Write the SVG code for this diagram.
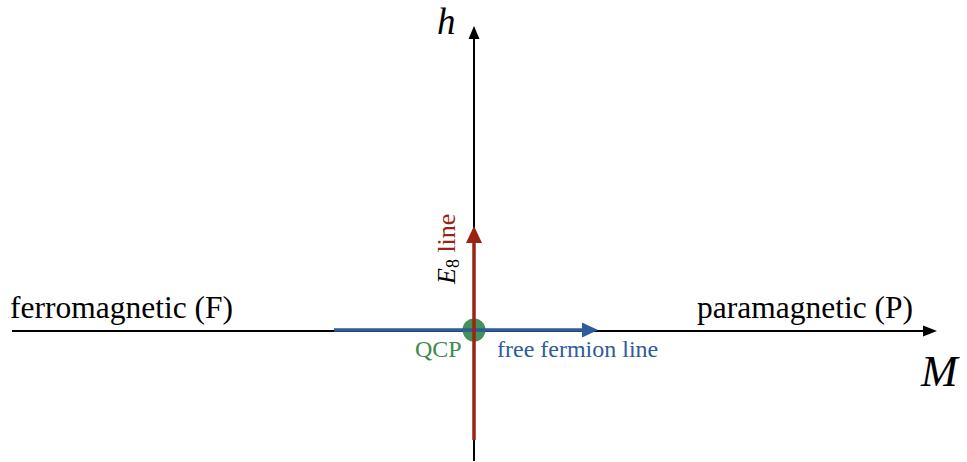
<svg xmlns="http://www.w3.org/2000/svg" width="967" height="462" viewBox="0 0 967 462">
<style>
.t{font-family:"Liberation Serif","Times New Roman",serif;}
.i{font-style:italic;}
</style>
<rect width="967" height="462" fill="#ffffff"/>
<g id="connectors">
  <g id="axis-h">
    <line x1="12" y1="331" x2="925" y2="331" stroke="#000" stroke-width="2"/>
    <polygon points="937,331 923,325.5 923,336.5" fill="#000"/>
  </g>
  <g id="axis-v">
    <line x1="474" y1="461" x2="474" y2="38" stroke="#000" stroke-width="2"/>
    <polygon points="474,26 468.5,39 479.5,39" fill="#000"/>
  </g>
</g>
<g id="qcp-node">
  <circle cx="474" cy="330" r="11.5" fill="#3a8c50" opacity="0.95"/>
</g>
<g id="free-fermion-line">
  <line x1="334" y1="330" x2="584" y2="330" stroke="#2e5c9a" stroke-width="3.5"/>
  <polygon points="598,330 582,322.5 582,337.5" fill="#2e5c9a"/>
</g>
<g id="e8-line">
  <line x1="474" y1="440" x2="474" y2="240" stroke="#9a2314" stroke-width="3.5"/>
  <polygon points="474,226 466,243 482,243" fill="#9a2314"/>
</g>
<g id="labels">
  <text class="t i" x="437" y="34" font-size="37">h</text>
  <text class="t i" x="921" y="386" font-size="44">M</text>
  <text class="t" x="10" y="318" font-size="31.5">ferromagnetic (F)</text>
  <text class="t" x="697" y="318" font-size="31.5">paramagnetic (P)</text>
  <text class="t" x="415" y="357" font-size="24" fill="#3a8c50">QCP</text>
  <text class="t" x="497" y="357" font-size="24" fill="#2e5c9a">free fermion line</text>
  <text class="t" transform="translate(455,284) rotate(-90)" font-size="26"><tspan class="i">E</tspan><tspan font-size="18" dy="4">8</tspan><tspan dy="-4" fill="#9a2314"> line</tspan></text>
</g>
</svg>
